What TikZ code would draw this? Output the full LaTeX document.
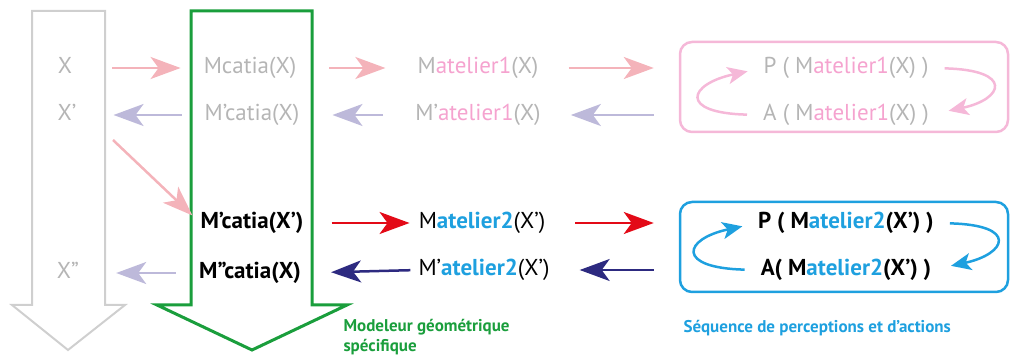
\documentclass[tikz,border=0pt]{standalone}
\usepackage{fontspec}
\setmainfont{PT Sans}
\usetikzlibrary{arrows.meta}

\definecolor{greyarrow}{HTML}{CFCFCF}
\definecolor{greytxt}{HTML}{B5B5B5}
\definecolor{modgreen}{HTML}{1A9E3C}
\definecolor{pinkarr}{HTML}{F4B3BA}
\definecolor{lavarr}{HTML}{BDB9DA}
\definecolor{pinktxt}{HTML}{F5A3CF}
\definecolor{pinkbox}{HTML}{F5B8D8}
\definecolor{redarr}{HTML}{E30A17}
\definecolor{navyarr}{HTML}{2D2A80}
\definecolor{cyanat}{HTML}{1EA0DF}

\begin{document}
\begin{tikzpicture}[x=1pt, y=-1pt,
    txt/.style={inner sep=0pt, text height=16pt, text depth=5pt, font=\fontsize{23}{27}\selectfont},
    faded/.style={txt, text=greytxt},
    strong/.style={txt, font=\fontsize{23}{27}\selectfont\bfseries},
    fl/.style={line width=2.5pt, -{Stealth[length=30pt, width=22pt, inset=8pt]}},
    cyc/.style={line width=2.5pt, -{Stealth[length=20pt, width=17pt, inset=5pt]}},
    loopbox/.style={draw, rounded corners=12pt, line width=2.5pt, minimum width=328pt, minimum height=90pt, inner sep=0pt}
]
    \useasboundingbox (0,0) rectangle (1010,358);

    % The two big downward arrows
    \draw[greyarrow, line width=2pt, line join=miter]
        (32,11) -- (105,11) -- (105,305) -- (125,305) -- (68,350) -- (12,305) -- (32,305) -- cycle;
    \draw[modgreen, line width=3pt, line join=miter]
        (191,11) -- (312,11) -- (312,305) -- (347,305) -- (252,350) -- (157,305) -- (191,305) -- cycle;

    % Left column
    \node[faded] (x)   at (65,68)  {X};
    \node[faded] (xp)  at (67,115) {X’};
    \node[faded] (xpp) at (68,273) {X”};

    % Catia column
    \node[faded]  (mc)   at (250,68)  {Mcatia(X)};
    \node[faded]  (mpc)  at (252,115) {M’catia(X)};
    \node[strong] (mpcp) at (252,223) {M’catia(X’)};
    \node[strong] (mppc) at (250,273) {M”catia(X)};

    % Atelier column
    \node[faded] (ma1)  at (478,68)  {M\textcolor{pinktxt}{atelier1}(X)};
    \node[faded] (mpa1) at (478,115) {M’\textcolor{pinktxt}{atelier1}(X)};
    \node[txt]   (ma2)  at (482,223) {M\textcolor{cyanat}{\bfseries atelier2}(X’)};
    \node[txt]   (mpa2) at (484,270) {M’\textcolor{cyanat}{\bfseries atelier2}(X’)};

    % Perception / action boxes
    \node[loopbox, pinkbox] (boxa) at (844,87)  {};
    \node[loopbox, cyanat]  (boxb) at (844,247) {};
    \node[faded]  (pa1) at (846,68)  {P ( M\textcolor{pinktxt}{atelier1}(X) )};
    \node[faded]  (aa1) at (846,115) {A ( M\textcolor{pinktxt}{atelier1}(X) )};
    \node[strong] (pa2) at (846,223) {P ( M\textcolor{cyanat}{atelier2}(X’) )};
    \node[strong] (aa2) at (846,270) {A( M\textcolor{cyanat}{atelier2}(X’) )};

    \draw[cyc, pinkbox, shorten <=16pt, shorten >=16pt]
        (aa1.west) .. controls +(-85,-2) and +(-75,16) .. (pa1.west);
    \draw[cyc, pinkbox, shorten <=16pt, shorten >=20pt]
        (pa1.east) .. controls +(85,2) and +(75,-16) .. (aa1.east);
    \draw[cyc, cyanat, shorten <=16pt, shorten >=16pt]
        (aa2.west) .. controls +(-85,-2) and +(-75,16) .. (pa2.west);
    \draw[cyc, cyanat, shorten <=16pt, shorten >=20pt]
        (pa2.east) .. controls +(85,2) and +(75,-16) .. (aa2.east);

    % Connectors between the columns
    \draw[fl, pinkarr, shorten <=40pt, shorten >=23pt] (x.east) -- (mc.west);
    \draw[fl, lavarr, shorten <=23pt, shorten >=37pt] (mpc.west) -- (xp.east);
    \coordinate (diag) at (113,140);
    \draw[fl, pinkarr, shorten >=11pt] (diag) -- (mpcp.west);
    \draw[fl, lavarr, shorten <=23pt, shorten >=37pt] (mppc.west) -- (xpp.east);

    \draw[fl, pinkarr, shorten <=33pt, shorten >=32pt] (mc.east) -- (ma1.west);
    \draw[fl, lavarr, shorten <=32pt, shorten >=33pt] (mpa1.west) -- (mpc.east);
    \draw[fl, redarr, shorten <=28pt, shorten >=9pt] (mpcp.east) -- (ma2.west);
    \draw[fl, navyarr, shorten <=8pt, shorten >=30pt] (mpa2.west) -- (mppc.east);

    \draw[fl, pinkarr, shorten <=30pt, shorten >=25pt] (ma1.east) -- (ma1.east -| boxa.west);
    \draw[fl, lavarr, shorten <=25pt, shorten >=30pt] (mpa1.east -| boxa.west) -- (mpa1.east);
    \draw[fl, redarr, shorten <=30pt, shorten >=25pt] (ma2.east) -- (ma2.east -| boxb.west);
    \draw[fl, navyarr, shorten <=25pt, shorten >=30pt] (mpa2.east -| boxb.west) -- (mpa2.east);

    % Captions
    \node[anchor=west, align=left, text=modgreen, font=\fontsize{17}{20}\selectfont\bfseries]
        (capmod) at (340,337) {Modeleur géométrique\\spécifique};
    \node[anchor=west, text=cyanat, font=\fontsize{17}{20}\selectfont\bfseries]
        (capseq) at (680,328) {Séquence de perceptions et d’actions};
\end{tikzpicture}
\end{document}
